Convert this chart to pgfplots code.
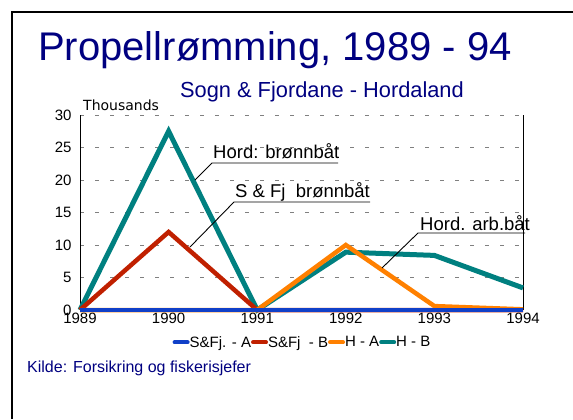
\documentclass[border=0pt]{standalone}
\usepackage{fontspec}
\setmainfont{Liberation Sans}
\newfontfamily\dejavu{DejaVu Sans}
\usepackage{pgfplots}
\pgfplotsset{compat=1.18}
\definecolor{navy}{RGB}{0,0,128}
\definecolor{cteal}{RGB}{0,128,128}
\definecolor{cred}{RGB}{192,32,0}
\definecolor{corange}{RGB}{255,128,0}
\definecolor{cblue}{RGB}{16,64,200}
\begin{document}
\begin{tikzpicture}[x=1bp,y=1bp]
\path[use as bounding box] (0,0) rectangle (573,419);
\draw[line width=2.5bp] (12,0) -- (12,407) -- (573,407);
\node[anchor=base west, inner sep=0pt, text=navy] at (38,359) {\fontsize{40bp}{48bp}\selectfont Propellrømming, 1989 - 94};
\node[anchor=base west, inner sep=0pt, text=navy] at (180,322) {\fontsize{21.8bp}{26bp}\selectfont Sogn \& Fjordane - Hordaland};
\node[anchor=base west, inner sep=0pt, text=navy] at (27,47) {\fontsize{16bp}{19bp}\selectfont Kilde: Forsikring og fiskerisjefer};
\node[anchor=base west, inner sep=0pt] at (83,309) {\dejavu\fontsize{14bp}{17bp}\selectfont Thousands};
\begin{axis}[
  at={(80bp,109bp)}, anchor=south west,
  width=443bp, height=195bp, scale only axis,
  xmin=1989, xmax=1994, ymin=0, ymax=30,
  xtick={1989,1990,1991,1992,1993,1994},
  ytick={0,5,10,15,20,25,30},
  major tick length=0pt,
  axis line style={draw=none},
  ymajorgrids,
  major grid style={gray, line width=0.8bp, dash pattern=on 4bp off 11bp},
  tick label style={font=\fontsize{15bp}{18bp}\selectfont, /pgf/number format/assume math mode=true},
  xticklabel style={/pgf/number format/1000 sep={}},
  yticklabel style={xshift=-5bp},
  clip=false,
  legend columns=4,
  legend style={at={(0.5,-0.133)}, anchor=north, draw=none, fill=none, inner sep=0pt,
    column sep=0pt, font=\fontsize{15bp}{18bp}\selectfont,
    nodes={inner sep=0pt, outer sep=0pt}},
  legend image code/.code={\draw[#1, line width=4bp, line cap=round] (1bp,0) -- (14bp,0);},
]
\draw[black, line width=1bp] (rel axis cs:0,0) -- (rel axis cs:0,1);
\draw[black, line width=1bp] (rel axis cs:1,0) -- (rel axis cs:1,1);
\draw[black, line width=1.5bp] (rel axis cs:0,0) -- (rel axis cs:1,0);
\addlegendimage{cblue}
\addlegendentry{S\&Fj. - A}
\addlegendimage{cred}
\addlegendentry{S\&Fj\ \ - B}
\addlegendimage{corange}
\addlegendentry{H - A}
\addlegendimage{cteal}
\addlegendentry{H - B}
\addplot[cteal, line width=5bp, forget plot] coordinates {(1989,0) (1990,27.5) (1991,0) (1992,8.9) (1993,8.4) (1994,3.4)};
\addplot[cred, line width=4.5bp, forget plot] coordinates {(1989,0) (1990,12) (1991,0) (1992,0) (1993,0) (1994,0)};
\addplot[corange, line width=4.5bp, forget plot] coordinates {(1989,0) (1990,0) (1991,0) (1992,10) (1993,0.6) (1994,0.1)};
\addplot[cblue, line width=3.5bp, forget plot] coordinates {(1989,0) (1990,0) (1991,0) (1992,0) (1993,0) (1994,0)};
\end{axis}
\begin{scope}[font=\fontsize{18.5bp}{22bp}\selectfont]
\node[anchor=base west, inner sep=0pt] at (213,261) {Hord: brønnbåt};
\draw[line width=0.9bp] (195,239) -- (212,256) -- (338,256);
\node[anchor=base west, inner sep=0pt] at (235,222) {S \& Fj\ \ brønnbåt};
\draw[line width=0.9bp] (190,172) -- (234,217) -- (370,217);
\node[anchor=base west, inner sep=0pt] at (420,189) {Hord. arb.båt};
\draw[line width=0.9bp] (382,151) -- (418,186) -- (525,186);
\end{scope}
\end{tikzpicture}
\end{document}
